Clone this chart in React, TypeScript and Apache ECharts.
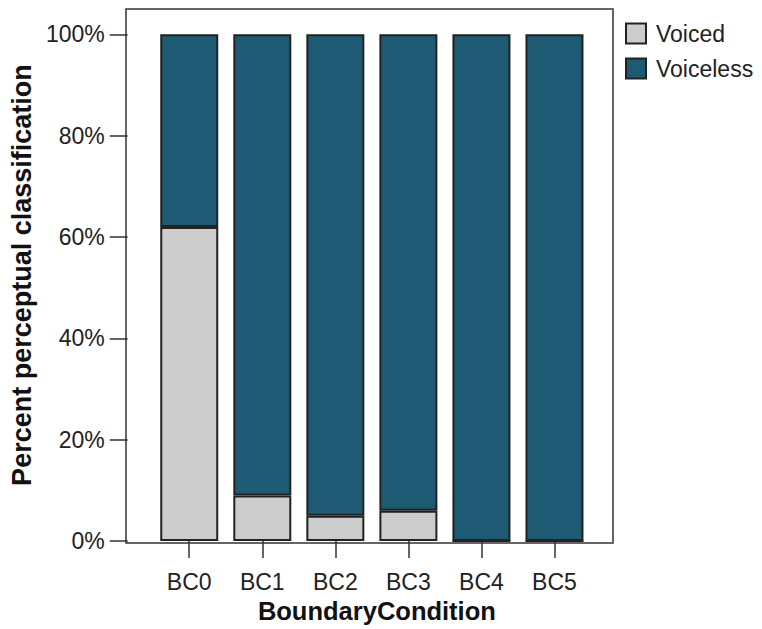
import React, { useEffect, useRef } from "react";
import * as echarts from "echarts";

const categories = ["BC0", "BC1", "BC2", "BC3", "BC4", "BC5"];
const voiced = [62, 9, 5, 6, 0, 0];
const voiceless = [38, 91, 95, 94, 100, 100];
const yTicks = [0, 20, 40, 60, 80, 100];

const FONT = '"Liberation Sans", Arial, sans-serif';

export default function App() {
  const ref = useRef<HTMLDivElement>(null);
  useEffect(() => {
    if (!ref.current) return;
    const chart = echarts.init(ref.current, null, { renderer: "svg" });
    chart.setOption({
      animation: false,
      backgroundColor: "#ffffff",
      textStyle: { fontFamily: FONT },
      grid: { left: 151, right: 171, top: 9, bottom: 86, containLabel: false },
      legend: {
        orient: "vertical",
        left: 620,
        top: 17,
        itemWidth: 20,
        itemHeight: 20,
        itemGap: 12,
        icon: "rect",
        textStyle: { fontSize: 23, color: "#222", fontFamily: FONT, padding: [0, 0, 0, 5] },
        data: ["Voiced", "Voiceless"],
      },
      graphic: [
        {
          type: "rect",
          z: 0,
          shape: { x: 126, y: 9, width: 487, height: 534 },
          style: { fill: "none", stroke: "#333333", lineWidth: 1.5 },
          silent: true,
        },
      ],
      xAxis: {
        type: "category",
        data: categories,
        boundaryGap: true,
        name: "BoundaryCondition",
        nameLocation: "middle",
        nameGap: 54,
        nameTextStyle: {
          fontSize: 25.5,
          fontWeight: "bold",
          color: "#111",
          fontFamily: FONT,
          padding: [0, 0, 0, 10],
        },
        axisLine: { show: false },
        axisTick: { show: true, alignWithLabel: true, length: 17, lineStyle: { color: "#333", width: 1.5 } },
        axisLabel: { fontSize: 23, color: "#222", margin: 29, fontFamily: FONT },
        splitLine: { show: false },
      },
      yAxis: {
        type: "value",
        min: 0,
        max: 105,
        interval: 20,
        offset: 25,
        name: "Percent perceptual classification",
        nameLocation: "middle",
        nameGap: 83,
        nameTextStyle: { fontSize: 27, fontWeight: "bold", color: "#111", fontFamily: FONT },
        axisLine: { show: false },
        axisTick: {
          show: true,
          length: 18,
          customValues: yTicks,
          lineStyle: { color: "#333", width: 1.5 },
        },
        axisLabel: {
          fontSize: 23,
          color: "#222",
          margin: 23,
          customValues: yTicks,
          formatter: (v: number) => `${v}%`,
          fontFamily: FONT,
        },
        splitLine: { show: false },
      },
      series: [
        {
          name: "Voiced",
          type: "bar",
          stack: "total",
          barWidth: 58,
          data: voiced,
          itemStyle: { color: "#cccccc", borderColor: "#222222", borderWidth: 2 },
          z: 2,
        },
        {
          name: "Voiceless",
          type: "bar",
          stack: "total",
          barWidth: 58,
          data: voiceless,
          itemStyle: { color: "#1e5a73", borderColor: "#222222", borderWidth: 2 },
          z: 2,
        },
      ],
    });
    return () => chart.dispose();
  }, []);
  return (
    <div
      ref={ref}
      style={{ position: "absolute", left: 0, top: 0, width: 762, height: 629 }}
    />
  );
}
